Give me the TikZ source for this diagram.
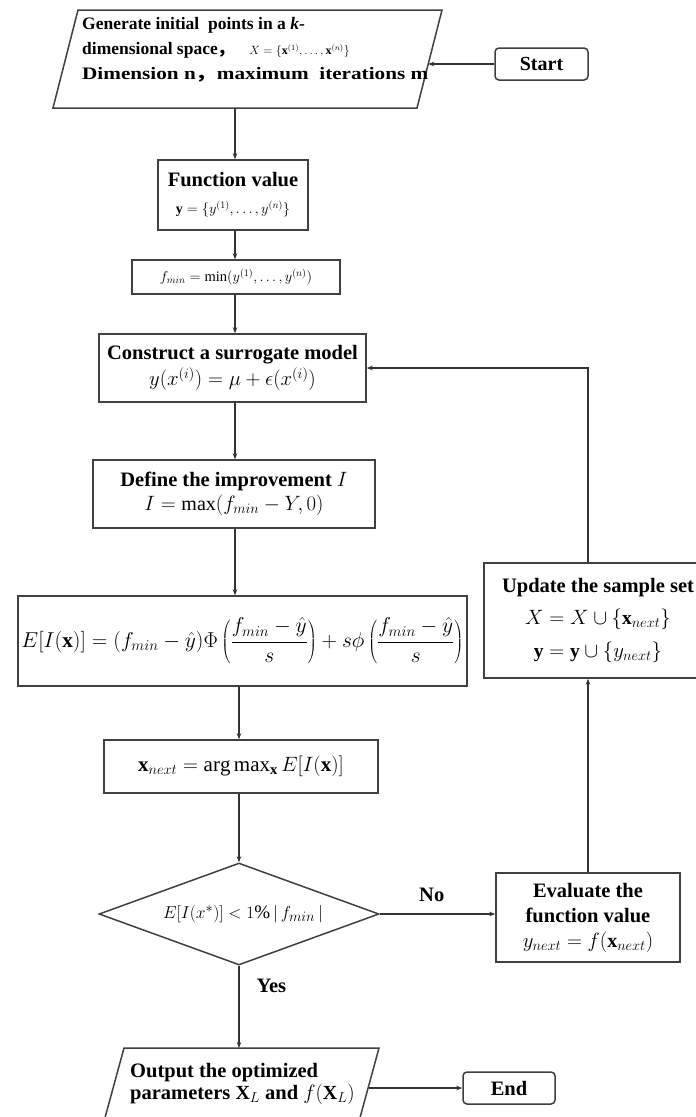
\documentclass[tikz,border=0pt]{standalone}
\usepackage{fontspec}
\setmainfont{Liberation Serif}
\newfontfamily\cjk{Noto Sans CJK SC}
\usepackage{graphicx}
\usetikzlibrary{arrows.meta,shapes.geometric,calc}
\newcommand\mathsz[2]{{\mdseries\fontsize{#1}{#1}\selectfont$#2$}}
\tikzset{
  box/.style={draw=black!75, line width=1.5pt, fill=white, align=center,
    font=\bfseries\fontsize{20.5}{24}\selectfont, inner sep=2pt},
  term/.style={box, rounded corners=4pt},
  lbl/.style={font=\bfseries\fontsize{20.5}{24}\selectfont, inner sep=0pt},
  arr/.style={-{Stealth[length=6pt,width=4.5pt]}, line width=1.1pt, draw=black!80},
  para/.style={draw=black!75, line width=1.5pt, line join=miter}
}
\begin{document}
\begin{tikzpicture}[x=1pt,y=-1pt]
\fill[white] (0,0) rectangle (696,1117);
\useasboundingbox (0,0) rectangle (696,1117);
\coordinate (ax) at (235,0);
% input parallelogram
\draw[para] (78,10) -- (442,10) -- (417,108) -- (53,108) -- cycle;
\node[lbl, anchor=west, align=left, font=\bfseries\fontsize{17.5}{25}\selectfont] (inp) at (82,50)
  {Generate initial\ \ points in a \textit{k}-\\
   dimensional space{\cjk ，}\hspace{14pt}\mathsz{12}{X=\{\mathbf{x}^{(1)},\ldots,\mathbf{x}^{(n)}\}}\\
   \resizebox{346pt}{\height}{Dimension n{\cjk ，}maximum\ \ iterations m}};
\coordinate (inpE) at (428.2,64);
\coordinate (inpS) at (235,108);
\node[term, minimum width=93pt, minimum height=32pt, font=\bfseries\fontsize{20}{24}\selectfont] (start) at (541.5,64) {Start};
\draw[arr] (start.west) -- (inpE);
% chain
\node[box, minimum width=150pt, minimum height=70pt] (fv) at (233,195)
  {Function value\\[3pt] \mathsz{14}{\mathbf{y}=\{y^{(1)},\ldots,y^{(n)}\}}};
\node[box, minimum width=208pt, minimum height=34pt] (fmin) at (236,277)
  {\mathsz{14.5}{f_{min}=\min(y^{(1)},\ldots,y^{(n)})}};
\node[box, minimum width=267pt, minimum height=68pt] (con) at (232.5,368)
  {Construct a surrogate model\\[2pt] \mathsz{20}{y(x^{(i)})=\mu+\epsilon(x^{(i)})}};
\node[box, minimum width=282pt, minimum height=68pt] (def) at (234,494)
  {Define the improvement \mathsz{20}{I}\\ \mathsz{20}{I=\max(f_{min}-Y,0)}};
\node[box, minimum width=449pt, minimum height=90pt] (ei) at (242.5,641)
  {\resizebox{442pt}{!}{\mdseries$\displaystyle E[I(\mathbf{x})]=(f_{min}-\hat{y})\Phi\left(\frac{f_{min}-\hat{y}}{s}\right)+s\phi\left(\frac{f_{min}-\hat{y}}{s}\right)$}};
\node[box, minimum width=274pt, minimum height=53pt] (am) at (241,766.5)
  {\mathsz{21}{\mathbf{x}_{next}=\arg\max\nolimits_{\mathbf{x}} E[I(\mathbf{x})]}};
\node[diamond, draw=black!75, line width=1.5pt, inner sep=0pt,
  minimum width=280pt, minimum height=102pt] (dia) at (239,914)
  {\makebox[0pt]{\hspace{8pt}\mathsz{19}{E[I(x^{*})]<1\%\,|\,f_{min}\,|}}};
\node[box, minimum width=184pt, minimum height=89pt] (ev) at (588,917.5)
  {Evaluate the\\[1pt]function value\\[1pt] \mathsz{20}{y_{next}=f(\mathbf{x}_{next})}};
\node[box, minimum width=228pt, minimum height=115pt] (upd) at (598,620.5)
  {Update the sample set\\[8pt] \mathsz{19.5}{X=X\cup\{\mathbf{x}_{next}\}}\\[9pt] \mathsz{19.5}{\mathbf{y}=\mathbf{y}\cup\{y_{next}\}}};
\coordinate (fb) at (588,0);
% output parallelogram
\draw[para] (124,1048) -- (379,1048) -- (358,1125) -- (103,1125) -- cycle;
\node[lbl, anchor=west, align=left, font=\bfseries\fontsize{20.5}{22}\selectfont] (out) at (130,1084)
  {Output the optimized\\ parameters \mathsz{20}{\mathbf{X}_{L}} and \mathsz{20}{f(\mathbf{X}_{L})}};
\coordinate (outN) at (239,1048);
\coordinate (outE) at (368.5,1088);
\node[term, minimum width=92pt, minimum height=32pt] (end) at (509,1088) {End};
% connectors
\draw[arr] (inpS) -- (fv.north -| inpS);
\draw[arr] (fv.south -| ax) -- (fmin.north -| ax);
\draw[arr] (fmin.south -| ax) -- (con.north -| ax);
\draw[arr] (con.south -| ax) -- (def.north -| ax);
\draw[arr] (def.south -| ax) -- (ei.north -| ax);
\draw[arr] (ei.south -| dia.north) -- (am.north -| dia.north);
\draw[arr] (am.south -| dia.north) -- (dia.north);
\draw[arr] (dia.east) -- node[lbl, above=12pt, pos=0.45] (no) {No} (ev.west |- dia.east);
\draw[arr] (dia.south) -- node[lbl, right=17pt, pos=0.25] (yes) {Yes} (outN);
\draw[arr] (ev.north) -- (upd.south -| ev.north);
\draw[arr] (upd.north -| fb) |- (con.east);
\draw[arr] (outE) -- (end.west);
\end{tikzpicture}
\end{document}
